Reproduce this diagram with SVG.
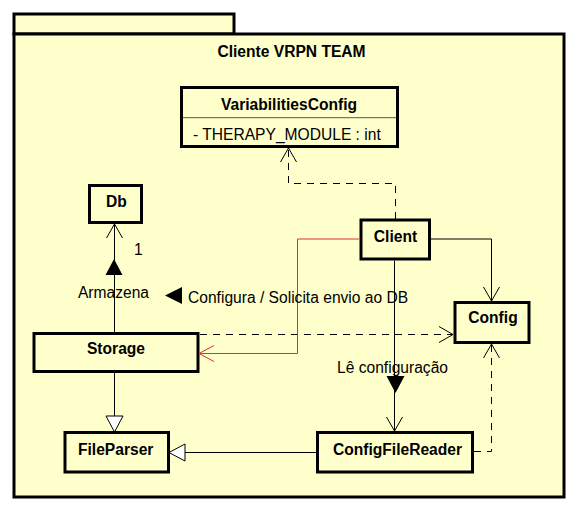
<svg xmlns="http://www.w3.org/2000/svg" width="577" height="507" viewBox="0 0 577 507">
<style>
text{font-family:"Liberation Sans",Arial,sans-serif;font-size:15.6px;fill:#000}
.b{font-weight:bold}
.m{text-anchor:middle}
.box{fill:#FFFFCC;stroke:#000;stroke-width:3}
.ln{fill:none;stroke:#000;stroke-width:1}
.dash{stroke-dasharray:7,6}
.red{stroke:#E03030}
</style>
<defs>
<marker id="open" markerUnits="userSpaceOnUse" markerWidth="18" markerHeight="20" refX="16" refY="10" orient="auto"><path d="M2,2 L16,10 L2,18" fill="none" stroke="#000" stroke-width="1"/></marker>
<marker id="openRed" markerUnits="userSpaceOnUse" markerWidth="18" markerHeight="20" refX="16" refY="10" orient="auto"><path d="M1,2 L16,10 L1,18" fill="none" stroke="#E03030" stroke-width="1"/></marker>
<marker id="tri" markerUnits="userSpaceOnUse" markerWidth="20" markerHeight="20" refX="17" refY="10" orient="auto"><path d="M1,1.5 L17,10 L1,18.5 Z" fill="#fff" stroke="#000" stroke-width="1"/></marker>
</defs>
<rect width="577" height="507" fill="#fff"/>
<g id="package">
<rect class="box" x="14" y="14" width="220" height="20"/>
<rect class="box" x="14" y="34" width="550" height="463"/>
<text class="b m" x="291.5" y="57">Cliente VRPN TEAM</text>
</g>
<g id="VariabilitiesConfig">
<rect class="box" x="181.5" y="87.5" width="216" height="59"/>
<line x1="183" y1="117.7" x2="396" y2="117.7" stroke="#555" stroke-width="1"/>
<text class="b m" x="289" y="110">VariabilitiesConfig</text>
<text x="193" y="140">- THERAPY_MODULE : int</text>
</g>
<g id="Db">
<rect class="box" x="89.5" y="185.5" width="52" height="37"/>
<text class="b m" x="116.5" y="207">Db</text>
</g>
<g id="Client">
<rect class="box" x="361" y="220" width="68.5" height="39"/>
<text class="b m" x="395.5" y="241.7">Client</text>
</g>
<g id="Config">
<rect class="box" x="455" y="302.5" width="74" height="40"/>
<text class="b m" x="493" y="323.3">Config</text>
</g>
<g id="Storage">
<rect class="box" x="34" y="333.5" width="164" height="38"/>
<text class="b m" x="116" y="354.3">Storage</text>
</g>
<g id="FileParser">
<rect class="box" x="65" y="432.5" width="103.5" height="39.5"/>
<text class="b m" x="115.7" y="455">FileParser</text>
</g>
<g id="ConfigFileReader">
<rect class="box" x="317.5" y="432.5" width="155" height="39.5"/>
<text class="b m" x="397.5" y="455">ConfigFileReader</text>
</g>
<g id="connectors">
<path class="ln dash" d="M395.5,219 V183.5 H288.5 V148" marker-end="url(#open)"/>
<path class="ln" d="M114.5,332 V224" marker-end="url(#open)"/>
<path class="ln" d="M114.5,373 V432" marker-end="url(#tri)"/>
<path class="ln" d="M316,452.5 H169" marker-end="url(#tri)"/>
<path class="ln" d="M394.5,260.5 V431" marker-end="url(#open)"/>
<path class="ln" d="M431,239 H491.5 V301" marker-end="url(#open)"/>
<path class="ln dash" d="M200,334.5 H453" marker-end="url(#open)"/>
<path class="ln dash" d="M474,451.5 H491.5 V344" marker-end="url(#open)"/>
<path class="ln red" d="M359,239 H297.5 V353.5 H199" marker-end="url(#openRed)"/>
<text x="134" y="255">1</text>
<polygon points="114,259 105.5,275 122.5,275" fill="#000"/>
<text class="m" x="113.5" y="298">Armazena</text>
<polygon points="165,295.5 182,287 182,304" fill="#000"/>
<text x="188" y="303">Configura / Solicita envio ao DB</text>
<text class="m" x="392.5" y="373">Lê configuração</text>
<polygon points="395.5,393 386.5,376 404.5,376" fill="#000"/>
</g>
</svg>
